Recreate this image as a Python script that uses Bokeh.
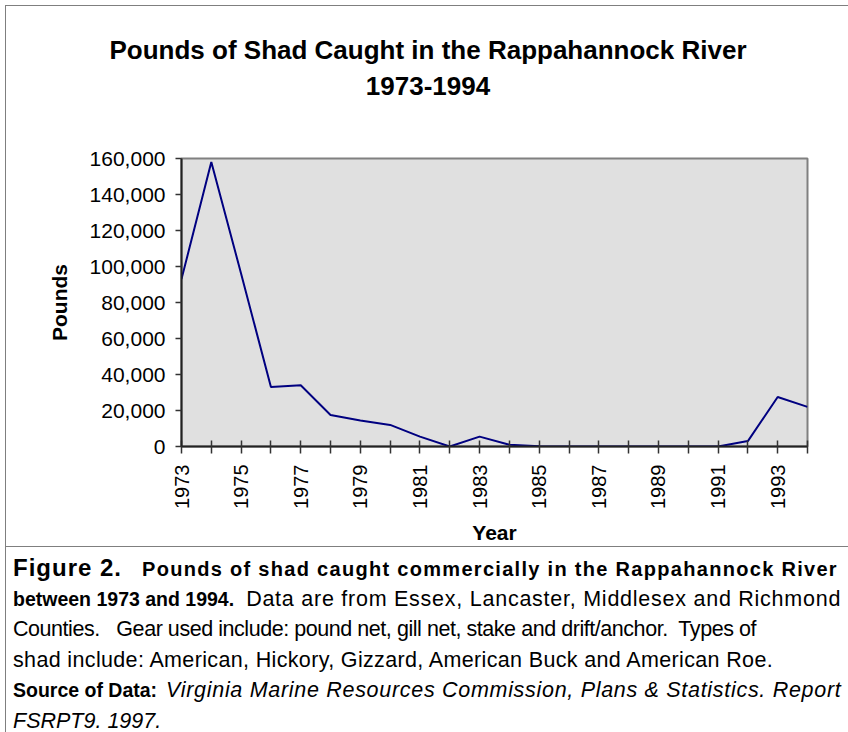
import numpy as np
from bokeh.plotting import figure
from bokeh.models import Range1d, FixedTicker, NumeralTickFormatter, Div
from bokeh.layouts import column
from bokeh.embed import file_html
from bokeh.resources import INLINE

# ---- data ----
years = [1973, 1974, 1975, 1976, 1977, 1978, 1979, 1980, 1981, 1982, 1983,
         1984, 1985, 1986, 1987, 1988, 1989, 1990, 1991, 1992, 1993, 1994]
pounds = [93000, 158000, 96000, 33000, 34000, 17500, 14500, 12000, 5500, 0, 5500,
          1000, 200, 0, 0, 0, 0, 0, 0, 3000, 27500, 22000]
y_ticks = [0, 20000, 40000, 60000, 80000, 100000, 120000, 140000, 160000]
x_label_years = [1973, 1975, 1977, 1979, 1981, 1983, 1985, 1987, 1989, 1991, 1993]
x_minor_years = [1974, 1976, 1978, 1980, 1982, 1984, 1986, 1988, 1990, 1992, 1994]
title_lines = ["Pounds of Shad Caught in the Rappahannock River", "1973-1994"]
x_title = "Year"
y_title = "Pounds"

FONT = "Liberation Sans"
BORDER = "#7f7f7f"
FONT_CSS = f"'{FONT}', Arial, sans-serif"

# ---- title block ----
title_html = (f'<div style="width:848px;box-sizing:border-box;font-family:{FONT_CSS};'
              f'font-weight:bold;font-size:26px;line-height:36px;color:#000;'
              f'text-align:center;padding:32px 0 0 8px;white-space:nowrap">'
              + "<br>".join(title_lines) + '</div>')
title_div = Div(text=title_html, width=848, height=100, margin=0,
                styles={"box-shadow": f"inset 5px 5px 0 #fff, inset 6px 6px 0 {BORDER}",
                        "overflow": "hidden"})

# ---- chart ----
p = figure(width=848, height=447, output_backend="svg", toolbar_location=None,
           x_range=Range1d(years[0], years[-1]), y_range=Range1d(y_ticks[0], y_ticks[-1]),
           min_border_left=181, min_border_right=41, min_border_top=58,
           min_border_bottom=101)
p.background_fill_color = "#e0e0e0"
p.border_fill_color = None
p.outline_line_color = "#808080"
p.outline_line_width = 2
p.grid.visible = False
p.styles = {"box-shadow": f"inset 5px 0 0 #fff, inset 6px 0 0 {BORDER}, inset 0 -1px 0 {BORDER}"}

p.line(years, pounds, line_color="#000080", line_width=2)

xa = p.xaxis[0]
xa.ticker = FixedTicker(ticks=x_label_years, minor_ticks=x_minor_years)
xa.major_label_orientation = np.pi / 2
xa.major_tick_in = 6
xa.major_tick_out = 7
xa.minor_tick_in = 6
xa.minor_tick_out = 7
xa.major_label_standoff = 11
xa.axis_line_color = "#222222"
xa.axis_line_width = 2
xa.major_tick_line_color = "#333333"
xa.minor_tick_line_color = "#333333"
xa.major_tick_line_width = 1.5
xa.minor_tick_line_width = 1.5
xa.major_label_text_font = FONT
xa.major_label_text_font_size = "20px"
xa.major_label_text_color = "#000000"
xa.axis_label = x_title
xa.axis_label_text_font = FONT
xa.axis_label_text_font_style = "bold"
xa.axis_label_text_font_size = "21px"
xa.axis_label_text_color = "#000000"
xa.axis_label_standoff = 9

ya = p.yaxis[0]
ya.ticker = FixedTicker(ticks=y_ticks)
ya.formatter = NumeralTickFormatter(format="0,0")
ya.major_tick_in = 0
ya.major_tick_out = 6
ya.minor_tick_in = 0
ya.minor_tick_out = 0
ya.major_label_standoff = 10
ya.axis_line_color = "#222222"
ya.axis_line_width = 2
ya.major_tick_line_color = "#333333"
ya.major_tick_line_width = 1.5
ya.major_label_text_font = FONT
ya.major_label_text_font_size = "21px"
ya.major_label_text_color = "#000000"
ya.axis_label = y_title
ya.axis_label_text_font = FONT
ya.axis_label_text_font_style = "bold"
ya.axis_label_text_font_size = "21px"
ya.axis_label_text_color = "#000000"
ya.axis_label_standoff = 16


# ---- caption ----
def span(text, size, weight="normal", style="normal", ls=0.0):
    return (f'<span style="font-size:{size}px;font-weight:{weight};font-style:{style};'
            f'letter-spacing:{ls}px">{text}</span>')


def gap(w):
    return f'<span style="display:inline-block;width:{w}px"></span>'


caption_lines = [
    span("Figure 2.", 24, "bold", ls=1) + gap(20)
    + span("Pounds of shad caught commercially in the Rappahannock River", 20, "bold", ls=1.3),
    span("between 1973 and 1994.", 19.5, "bold", ls=0) + gap(12)
    + span("Data are from Essex, Lancaster, Middlesex and Richmond", 21.5, ls=0.75),
    span("Counties.   Gear used include: pound net, gill net, stake and drift/anchor.  Types of", 21.5, ls=-0.45),
    span("shad include: American, Hickory, Gizzard, American Buck and American Roe.", 21.5, ls=0.35),
    span("Source of Data:", 19.5, "bold") + gap(9)
    + span("Virginia Marine Resources Commission, Plans &amp; Statistics. Report", 21.5, style="italic", ls=0.7),
    span("FSRPT9. 1997.", 21.5, style="italic"),
]
cap_html = (f'<div style="font-family:{FONT_CSS};color:#000;padding:6px 0 0 13px">'
            + "".join(f'<div style="height:30.5px;line-height:30.5px;white-space:pre">{ln}</div>'
                      for ln in caption_lines)
            + '</div>')
cap = Div(text=cap_html, width=848, height=185, margin=0,
          styles={"box-shadow": f"inset 5px 0 0 #fff, inset 6px 0 0 {BORDER}",
                  "overflow": "hidden"})

layout = column(title_div, p, cap, spacing=0)
open("out.html", "w").write(file_html(layout, INLINE))
